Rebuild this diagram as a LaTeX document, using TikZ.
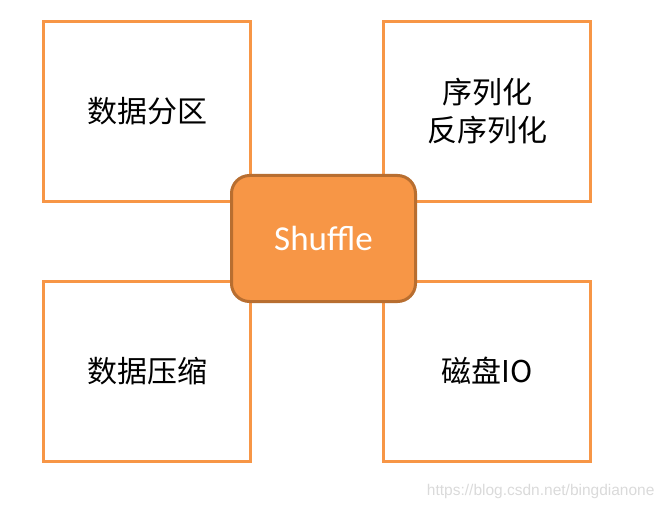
\documentclass[tikz,border=0pt]{standalone}
\usepackage{fontspec}
\newfontfamily\cjk{Noto Sans CJK SC}
\newfontfamily\calibri{Carlito}
\newfontfamily\urlfont{Liberation Sans}

\definecolor{boxorange}{HTML}{F79646}
\definecolor{coreedge}{HTML}{B86E30}
\definecolor{markgray}{HTML}{DADADA}

\tikzset{
  topic/.style={draw=boxorange, line width=3pt, fill=white, minimum width=207pt,
    minimum height=180pt, inner sep=0pt, font=\cjk\fontsize{30}{38}\selectfont, align=center},
  core/.style={draw=coreedge, line width=3pt, fill=boxorange, rounded corners=18pt,
    minimum width=184pt, minimum height=126pt, text=white, font=\calibri\fontsize{35}{40}\selectfont}
}

\begin{document}
\begin{tikzpicture}[x=1pt,y=1pt]
\useasboundingbox (0,0) rectangle (668,509);

\node[topic] (partition) at (147,397.5) {数据分区};
\node[topic] (serial) at (487,397.5) {序列化\\反序列化};
\node[topic] (compress) at (147,138) {数据压缩};
\node[topic] (diskio) at (487,138) {磁盘IO};

\node[core] (shuffle) at (323.5,270.5) {Shuffle};

\node[text=markgray, font=\urlfont\fontsize{15.5}{18}\selectfont, anchor=east] (mark) at (658,18) {https://blog.csdn.net/bingdianone};
\end{tikzpicture}
\end{document}
